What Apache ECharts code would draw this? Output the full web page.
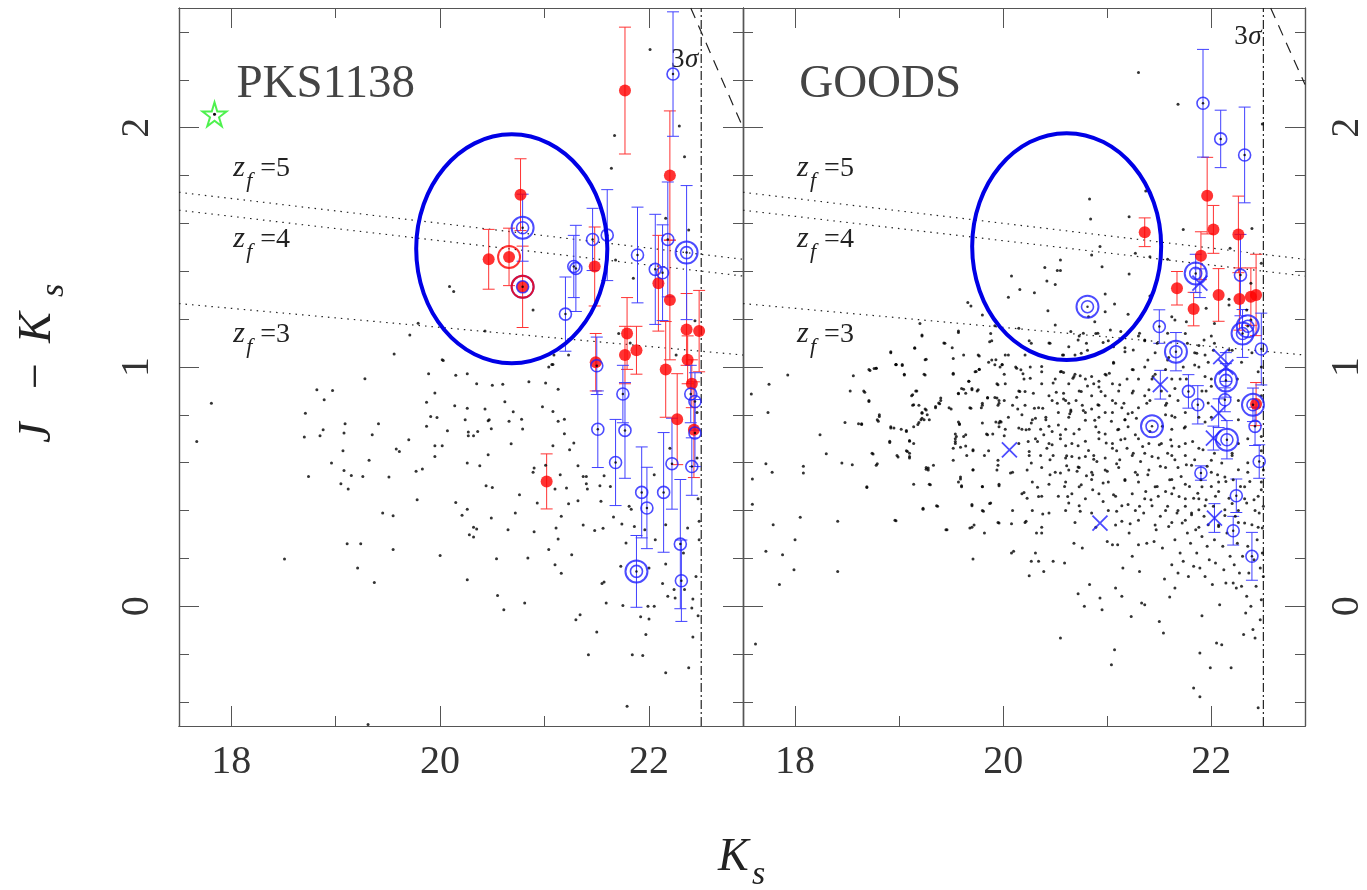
<!DOCTYPE html>
<html>
<head>
<meta charset="utf-8">
<script src="https://cdn.jsdelivr.net/npm/echarts@6/dist/echarts.min.js"></script>
<style>
  html, body { margin: 0; background: #fff; }
  #main { width: 1367px; height: 890px; }
</style>
</head>
<body>
<div id="main"></div>
<script>
// ---- axes ----
var xMin = 17.5, xMax = 22.9, yMin = -0.5, yMax = 2.5;
var xMajor = [18, 20, 22];
var xMinor = [19, 21];
var yMajor = [0, 1, 2];
var yMinor = [-0.4, -0.2, 0.2, 0.4, 0.6, 0.8, 1.2, 1.4, 1.6, 1.8, 2.2, 2.4];

// ---- model tracks / limits (same in both panels) ----
var zf5Line = [[17.5, 1.73], [22.9, 1.45]];
var zf4Line = [[17.5, 1.655], [22.9, 1.38]];
var zf3Line = [[17.5, 1.265], [22.9, 1.05]];
var sigmaLimit = [[22.5, -0.5], [22.5, 2.5]];
var pksJLimit = [[22.4, 2.5], [22.9, 2.0]];
var goodsJLimit = [[22.57, 2.5], [22.9, 2.18]];

// ellipse: K centre, colour centre, K radius, colour radius
var pksEllipse = [[20.686, 1.494, 0.915, 0.478]];
var goodsEllipse = [[20.61, 1.503, 0.908, 0.474]];

var pksStar = [[17.84, 2.056]];

// ---- PKS1138 field: [Ks, J-Ks] ----
var pksField = [
  [17.84, 2.056], [22.01, 2.327], [22.29, 2.007], [21.67, 1.967], [22.34, 1.879], [21.64, 1.83],
  [22.38, 1.572], [22.16, 1.621], [20.09, 1.336], [20.13, 1.315], [20.89, 1.238], [21.85, 1.371],
  [21.68, 1.447], [22.44, 1.193], [19.79, 1.183], [19.71, 1.134], [20.43, 1.15], [19.56, 1.054],
  [20.02, 1.03], [21.09, 1.05], [21.23, 1.05], [22.26, 1.05], [21.08, 1.01], [21.71, 1.14], [21.82, 1.1],
  [17.81, 0.849], [17.67, 0.689], [18.82, 0.905], [18.97, 0.902], [18.89, 0.863], [19.28, 0.951],
  [18.71, 0.807], [18.70, 0.707], [18.85, 0.713], [18.88, 0.738], [19.09, 0.763], [19.08, 0.724],
  [19.41, 0.763], [19.35, 0.717], [19.70, 0.696], [19.07, 0.65], [19.58, 0.657], [19.61, 0.647],
  [19.32, 0.61], [18.96, 0.599], [18.74, 0.543], [19.08, 0.568], [19.15, 0.547], [19.26, 0.543],
  [19.51, 0.54], [19.05, 0.512], [19.12, 0.49], [19.89, 0.972], [20.15, 0.966], [20.26, 0.972],
  [20.03, 1.027], [19.95, 0.891], [19.87, 0.853], [20.35, 0.93], [20.5, 0.924], [20.6, 0.928],
  [20.85, 0.938], [21.01, 0.933], [21.13, 0.907], [21.04, 1.0], [21.07, 1.01], [20.14, 0.838],
  [20.26, 0.828], [20.43, 0.824], [20.62, 0.855], [19.91, 0.793], [19.97, 0.789], [19.87, 0.752],
  [20.07, 0.734], [20.24, 0.78], [20.46, 0.775], [20.47, 0.78], [20.66, 0.773], [20.78, 0.782],
  [20.7, 0.813], [20.98, 0.834], [21.08, 0.814], [21.13, 0.773], [21.19, 0.782], [20.49, 0.742],
  [20.79, 0.741], [20.27, 0.728], [20.36, 0.731], [20.32, 0.713], [20.27, 0.713], [21.19, 0.721],
  [19.95, 0.671], [20.02, 0.671], [20.68, 0.679], [21.28, 0.682], [21.08, 0.671], [21.24, 0.654],
  [19.95, 0.626], [20.46, 0.633], [20.26, 0.599], [20.38, 0.587], [19.77, 0.564], [19.83, 0.574],
  [20.9, 0.578], [20.89, 0.56], [21.01, 0.59], [21.15, 0.55], [21.32, 0.587], [21.37, 0.543],
  [21.4, 0.543], [20.44, 0.504], [20.5, 0.497], [20.76, 0.466], [21.1, 0.49], [21.21, 0.494],
  [21.4, 0.512], [21.41, 0.49], [21.53, 0.504], [21.63, 0.501], [21.57, 0.546], [19.78, 0.445],
  [20.15, 0.434], [20.26, 0.406], [20.21, 0.381], [20.49, 0.369], [20.72, 0.39], [20.93, 0.432],
  [21.23, 0.429], [21.32, 0.441], [21.54, 0.439], [21.81, 0.418], [21.83, 0.406], [19.45, 0.39],
  [19.55, 0.379], [20.32, 0.33], [20.35, 0.323], [20.28, 0.299], [20.32, 0.29], [20.65, 0.32],
  [20.9, 0.312], [21.16, 0.376], [21.11, 0.327], [21.13, 0.281], [21.37, 0.34], [21.48, 0.317],
  [21.56, 0.326], [21.66, 0.373], [21.74, 0.344], [21.78, 0.265], [21.86, 0.334], [21.96, 0.32],
  [22.06, 0.278], [22.16, 0.341], [22.37, 0.327], [22.48, 0.355], [22.48, 0.278], [19.11, 0.262],
  [19.24, 0.262], [19.55, 0.237], [20.0, 0.212], [20.54, 0.199], [20.84, 0.202], [21.04, 0.237],
  [21.26, 0.216], [21.1, 0.174], [21.16, 0.138], [21.73, 0.167], [22.0, 0.16], [22.16, 0.177],
  [22.33, 0.223], [22.13, 0.095], [22.18, 0.042], [22.24, 0.07], [22.25, 0.035], [22.34, 0.07],
  [22.45, 0.125], [22.47, -0.039], [22.42, 0.031], [22.41, -0.007], [21.55, 0.095], [21.57, 0.102],
  [21.59, 0.014], [21.75, 0.003], [21.99, 0.0], [22.05, 0.0], [21.92, -0.044], [22.0, -0.053],
  [21.97, -0.118], [21.3, -0.056], [21.34, -0.035], [21.5, -0.107], [21.42, -0.202], [21.84, -0.202],
  [21.94, -0.205], [22.16, -0.278], [22.38, -0.257], [22.42, -0.128], [21.79, -0.417], [19.31, -0.494],
  [18.51, 0.198], [19.21, 0.16], [19.37, 0.1], [20.26, 0.111], [20.55, 0.045], [20.61, -0.014],
  [20.81, 0.014], [22.46, 0.62], [22.47, 0.45], [22.46, 0.81], [22.2, 0.66], [22.05, 0.55]
];

// ---- PKS1138 red (filled): [Ks, J-Ks, error] ----
var pksRed = [
  [21.77, 2.155, 0.265], [20.77, 1.72, 0.15], [20.465, 1.45, 0.125], [20.66, 1.46, 0.12],
  [20.79, 1.335, 0.17], [21.48, 1.42, 0.165], [22.2, 1.80, 0.27], [22.09, 1.35, 0.2],
  [22.2, 1.28, 0.25], [21.79, 1.14, 0.15], [21.88, 1.07, 0.1], [21.77, 1.05, 0.12],
  [22.36, 1.157, 0.15], [22.48, 1.15, 0.17], [22.37, 1.03, 0.1], [22.16, 0.99, 0.2],
  [21.49, 1.02, 0.12], [21.02, 0.522, 0.115], [22.27, 0.782, 0.19], [22.43, 0.738, 0.2],
  [22.41, 0.93, 0.1]
];
var pksRedRing = [[20.66, 1.46], [20.79, 1.335]];

// ---- PKS1138 blue (open): [Ks, J-Ks, error] ----
var pksBlue = [
  [22.23, 2.224, 0.26], [21.46, 1.533, 0.13], [21.6, 1.551, 0.19], [21.3, 1.412, 0.18],
  [21.28, 1.42, 0.13], [21.2, 1.221, 0.155], [21.89, 1.468, 0.2], [22.06, 1.408, 0.23],
  [22.13, 1.394, 0.2], [22.18, 1.533, 0.24], [21.5, 1.005, 0.12], [21.75, 0.887, 0.12],
  [21.51, 0.74, 0.16], [21.77, 0.735, 0.2], [21.68, 0.601, 0.18], [21.93, 0.476, 0.19],
  [21.98, 0.411, 0.17], [22.14, 0.476, 0.25], [22.22, 0.596, 0.19], [22.4, 0.887, 0.12],
  [22.44, 0.856, 0.12], [22.44, 0.724, 0.14], [22.41, 0.584, 0.12], [22.3, 0.26, 0.27],
  [22.31, 0.107, 0.17]
];
var pksBlueDouble = [
  [20.79, 1.582, 0.14], [20.79, 1.335, 0], [22.36, 1.478, 0.28], [21.88, 0.146, 0.15]
];

// ---- GOODS field: [Ks, J-Ks] ----
var goodsField = [
  [21.3, 2.23], [21.68, 2.098], [22.49, 2.015], [20.83, 1.702], [20.84, 1.618], [21.37, 1.735],
  [21.21, 1.628], [21.73, 1.575], [22.39, 1.579], [20.93, 1.503], [20.85, 1.468], [21.27, 1.475],
  [21.41, 1.461], [21.58, 1.45], [22.18, 1.496], [22.48, 1.433], [20.55, 1.447], [20.95, 1.419],
  [20.4, 1.416], [20.52, 1.403], [20.55, 1.403], [20.08, 1.38], [21.21, 1.389], [20.42, 1.359],
  [20.5, 1.345], [20.16, 1.324], [20.3, 1.31], [20.05, 1.291], [20.98, 1.305], [21.41, 1.297],
  [22.17, 1.283], [21.95, 1.245], [22.17, 1.259], [19.66, 1.269], [19.69, 1.255], [20.43, 1.235],
  [21.07, 1.263], [21.2, 1.22], [20.98, 1.231], [20.82, 1.21], [20.88, 1.189], [19.8, 1.217],
  [19.92, 1.172], [19.2, 1.182], [19.57, 1.144], [19.22, 1.134], [20.5, 1.175], [20.15, 1.162],
  [20.65, 1.148], [20.77, 1.141], [20.91, 1.141], [21.03, 1.155], [21.13, 1.148], [21.31, 1.141],
  [21.36, 1.113], [19.87, 1.106], [19.44, 1.099], [19.15, 1.078], [18.92, 1.064], [20.27, 1.099],
  [20.45, 1.099], [20.63, 1.085], [20.72, 1.113], [20.8, 1.099], [20.96, 1.102], [21.06, 1.085],
  [21.17, 1.064], [21.25, 1.071], [21.48, 1.099], [21.77, 1.099], [21.86, 1.057], [21.93, 1.113],
  [22.03, 1.099], [22.17, 1.071], [21.76, 1.189], [21.62, 1.21], [21.65, 1.196], [21.58, 1.141],
  [22.03, 1.182], [22.38, 1.196], [22.38, 1.35], [22.34, 1.238], [19.52, 1.036], [19.26, 1.032],
  [19.77, 1.046], [19.89, 1.029], [18.76, 0.994], [18.97, 1.01], [21.39, 1.029], [21.58, 1.029],
  [20.58, 1.05], [20.75, 1.057], [21.84, 1.008],
  [17.58, 0.887], [17.75, 0.928], [17.93, 0.967], [17.74, 0.81], [17.59, 0.532], [17.59, 0.427],
  [17.78, 0.56], [17.72, 0.596], [17.79, 0.341], [17.72, 0.23], [17.88, 0.216], [17.85, 0.091],
  [18.0, 0.278], [17.99, 0.153], [18.05, 0.372], [18.08, 0.585], [18.08, 0.557], [17.62, -0.157],
  [18.24, 0.717], [18.3, 0.638], [18.41, 0.355], [18.41, 0.146], [18.48, 0.768], [18.45, 0.599],
  [18.55, 0.592], [18.53, 0.9], [18.56, 0.963], [18.67, 0.895], [18.71, 0.856], [18.72, 0.985],
  [18.78, 0.995], [18.61, 0.763], [18.64, 0.763], [18.81, 0.793], [18.8, 0.773], [18.69, 0.497],
  [18.75, 0.636], [18.79, 0.596], [18.92, 0.745], [18.91, 0.685], [18.97, 0.358], [18.99, 0.624],
  [18.97, 1.009], [19.03, 1.006], [19.05, 0.967], [19.07, 0.735], [19.1, 0.693], [19.08, 0.647],
  [19.1, 0.626], [19.13, 0.884], [19.14, 0.842], [19.17, 0.9], [19.19, 0.768], [19.22, 0.786],
  [19.25, 0.824], [19.25, 0.967], [19.22, 0.807], [19.26, 0.573], [19.28, 0.578], [19.3, 0.508],
  [19.23, 0.406], [19.37, 0.418], [19.4, 0.86], [19.39, 0.846], [19.35, 0.835], [19.5, 0.824],
  [19.52, 0.974], [19.46, 0.32], [19.57, 0.888], [19.58, 0.763], [19.55, 0.71], [19.54, 0.689],
  [19.59, 0.665], [19.62, 0.907], [19.64, 0.717], [19.59, 0.532], [19.6, 0.504], [19.67, 0.94],
  [19.69, 0.828], [19.7, 0.905], [19.71, 0.654], [19.71, 0.571], [19.74, 0.981], [19.77, 0.991],
  [19.76, 0.905], [19.8, 0.849], [19.8, 0.766], [19.8, 0.501], [19.7, 0.425], [19.68, 0.327],
  [19.71, 0.198], [19.81, 0.397], [19.82, 0.306], [19.85, 0.717], [19.85, 0.873], [19.88, 0.432],
  [19.92, 1.009], [19.92, 0.873], [19.95, 0.926], [19.96, 0.849], [19.96, 0.504], [19.96, 0.348],
  [19.97, 0.773], [19.96, 0.766], [19.99, 1.009], [20.01, 0.713], [20.07, 0.557], [20.08, 0.345],
  [20.08, 0.223], [20.1, 0.23], [20.13, 0.874], [20.14, 0.824], [20.15, 0.745], [20.13, 0.995],
  [20.16, 0.898], [20.17, 0.988], [20.19, 0.972], [20.21, 0.898], [20.22, 0.738], [20.24, 0.689],
  [20.25, 0.647], [20.2, 0.476], [20.23, 0.452], [20.22, 0.355], [20.26, 0.953], [20.27, 0.766],
  [20.27, 0.599], [20.27, 0.188], [20.25, 0.128], [20.3, 0.828], [20.31, 0.786], [20.33, 0.689],
  [20.33, 0.498], [20.32, 0.306], [20.31, 0.223], [20.34, 0.459], [20.34, 0.188], [20.37, 1.002],
  [20.38, 0.828], [20.39, 0.717], [20.39, 0.146], [20.37, 0.306], [20.38, 0.386], [20.41, 0.78],
  [20.42, 0.661], [20.44, 0.752], [20.45, 0.612], [20.45, 0.55], [20.47, 0.675], [20.48, 0.188],
  [20.48, 0.933], [20.51, 0.895], [20.52, 0.849], [20.53, 0.758], [20.55, 0.717], [20.55, 0.557],
  [20.55, -0.132], [20.56, 0.981], [20.58, 0.977], [20.58, 0.866], [20.59, 0.501], [20.59, 0.181],
  [20.6, 0.671], [20.61, 0.629], [20.61, 0.587], [20.62, 0.459], [20.63, 0.432], [20.63, 0.849],
  [20.64, 0.805], [20.65, 0.814], [20.66, 0.626], [20.67, 0.953], [20.68, 0.96], [20.68, 0.264],
  [20.68, 0.721], [20.7, 0.86], [20.71, 0.564], [20.72, 0.671], [20.72, 0.582], [20.72, 0.053],
  [20.74, 0.397], [20.74, 0.963], [20.75, 0.898], [20.75, 0.508], [20.76, 0.244], [20.77, 0.818],
  [20.78, 0.0], [20.79, 0.777], [20.79, 0.626], [20.8, 0.546], [20.81, 0.921], [20.82, 0.651],
  [20.83, 0.091], [20.85, 0.824], [20.86, 0.55], [20.86, 0.487], [20.87, 0.93], [20.87, 0.615],
  [20.88, 0.777], [20.9, 0.605], [20.91, 0.842], [20.92, 0.916], [20.92, 0.727], [20.93, 0.035],
  [20.94, 0.898], [20.95, -0.014], [20.96, 0.515], [20.96, 0.438], [20.98, 0.81], [20.99, 0.682],
  [20.99, 0.967], [21.0, 0.564], [21.0, 0.271], [21.02, 0.974], [21.04, 0.773], [21.04, -0.244],
  [21.05, 0.661], [21.05, 0.257], [21.06, 1.016], [21.06, 0.466], [21.07, -0.181], [21.08, 0.849],
  [21.08, 0.077], [21.09, 0.596], [21.09, 0.397], [21.1, 0.738], [21.1, 0.257], [21.12, 0.926],
  [21.12, 0.612], [21.13, 0.696], [21.14, 0.042], [21.14, 0.355], [21.15, 0.16], [21.16, 0.849],
  [21.17, 0.78], [21.17, 0.526], [21.19, 0.661], [21.2, 0.805], [21.2, 0.425], [21.21, 0.306],
  [21.22, 0.345], [21.23, -0.042], [21.24, 0.209], [21.24, 0.891], [21.25, 0.64], [21.25, 0.988],
  [21.27, 0.717], [21.28, 0.786], [21.29, 0.55], [21.3, 0.257], [21.31, 0.418], [21.31, 0.146],
  [21.32, 0.605], [21.33, 0.014], [21.34, 0.668], [21.35, 0.39], [21.36, 0.007], [21.37, 0.48],
  [21.38, 0.849], [21.38, 0.264], [21.39, 0.55], [21.4, 0.905], [21.41, 0.731], [21.42, 0.445],
  [21.43, 0.626], [21.44, 0.96], [21.45, 0.271], [21.47, 0.32], [21.48, 0.501], [21.5, 0.675],
  [21.5, -0.063], [21.51, 0.585], [21.51, 0.376], [21.53, 0.752], [21.53, 0.244], [21.54, -0.111],
  [21.55, 0.114], [21.56, 0.48], [21.57, 0.849], [21.58, 0.64], [21.58, 0.418], [21.59, 0.334],
  [21.6, 0.039], [21.6, 0.529], [21.61, 0.696], [21.62, 0.796], [21.62, 0.174], [21.64, 0.494],
  [21.65, 0.612], [21.65, 0.278], [21.65, 0.077], [21.67, 0.39], [21.68, 0.139], [21.69, 0.459],
  [21.69, 0.668], [21.7, 0.223], [21.71, 0.543], [21.72, 0.348], [21.73, 0.188], [21.74, 0.745],
  [21.75, 0.418], [21.76, 0.592], [21.77, 0.306], [21.78, 0.125], [21.79, 0.501], [21.8, 0.264],
  [21.81, 0.383], [21.82, 0.689], [21.83, -0.341], [21.83, 0.167], [21.83, 0.452], [21.84, 0.612],
  [21.85, 0.32], [21.86, 0.223], [21.87, 0.473], [21.88, 0.404], [21.89, 0.16], [21.89, -0.195],
  [21.89, -0.378], [21.9, 0.529], [21.91, -0.039], [21.91, 0.292], [21.92, 0.654], [21.93, 0.376],
  [21.94, 0.125], [21.95, 0.445], [21.96, 0.251], [21.96, 0.585], [21.97, 0.341], [21.98, 0.195],
  [21.99, -0.257], [22.0, 0.501], [22.01, 0.091], [22.02, 0.418], [22.03, 0.64], [22.03, 0.278],
  [22.04, 0.181], [22.05, -0.153], [22.06, 0.55], [22.07, 0.334], [22.07, 0.48], [22.08, 0.007],
  [22.1, -0.16], [22.1, 0.599], [22.11, 0.251], [22.12, 0.153], [22.13, 0.404], [22.14, 0.097],
  [22.14, 0.522], [22.15, 0.306], [22.17, 0.452], [22.18, 0.209], [22.19, -0.257], [22.2, 0.64],
  [22.21, 0.097], [22.21, 0.529], [22.22, 0.174], [22.23, 0.376], [22.24, 0.077], [22.25, 0.264],
  [22.26, 0.571], [22.27, 0.139], [22.28, 0.501], [22.29, 0.084], [22.3, 0.209], [22.31, -0.118],
  [22.32, 0.348], [22.33, -0.028], [22.34, 0.042], [22.34, 0.432], [22.35, 0.251], [22.36, 0.139],
  [22.37, 0.522], [22.38, 0.0], [22.39, 0.341], [22.4, -0.097], [22.41, 0.195], [22.41, 0.445],
  [22.42, -0.132], [22.43, 0.084], [22.44, 0.278], [22.45, -0.424], [22.46, 0.39], [22.47, 0.16],
  [22.47, -0.056], [22.48, 0.028], [22.48, 0.487], [22.49, 0.327], [22.49, 0.223], [22.5, 0.125],
  [22.5, 0.418], [21.7, 0.95], [21.95, 0.9], [22.25, 0.95], [22.45, 0.98], [21.6, 0.88], [22.35, 0.7],
  // dense core, K 20-22.5
  [20.25, 1.11], [20.44, 1.10], [20.73, 1.13], [20.89, 1.14], [21.01, 1.11], [21.30, 1.13],
  [21.36, 1.11], [21.75, 1.14], [21.88, 1.09], [22.0, 1.13], [22.02, 1.07], [20.05, 1.05],
  [20.21, 1.05], [20.57, 1.05], [20.69, 1.05], [20.81, 1.07], [20.92, 1.06], [21.05, 1.09],
  [21.17, 1.08], [21.46, 1.06], [21.59, 1.04], [21.84, 1.06], [21.94, 1.05], [22.2, 1.07],
  [22.39, 1.06], [19.99, 1.01], [20.12, 1.0], [20.26, 1.0], [20.37, 0.98], [20.55, 0.98],
  [20.69, 0.97], [20.85, 0.96], [20.98, 0.97], [21.06, 1.02], [21.24, 0.99], [21.36, 1.0],
  [21.46, 0.97], [21.56, 0.99], [21.73, 1.0], [21.88, 1.0], [21.97, 1.02], [21.94, 0.96],
  [20.02, 0.93], [20.2, 0.95], [20.37, 0.93], [20.50, 0.95], [20.63, 0.93], [20.79, 0.95],
  [20.92, 0.94], [21.05, 0.93], [21.19, 0.95], [21.3, 0.95], [21.43, 0.95], [21.62, 0.95],
  [21.76, 0.95], [22.0, 0.95], [22.29, 1.02], [22.48, 1.0], [20.15, 0.90], [20.29, 0.89],
  [20.44, 0.88], [20.58, 0.89], [20.73, 0.90], [20.85, 0.88], [20.98, 0.88], [21.11, 0.90],
  [21.25, 0.90], [21.36, 0.88], [21.52, 0.90], [21.65, 0.91], [21.91, 0.90], [22.0, 0.92],
  [19.96, 0.86], [20.09, 0.84], [20.21, 0.84], [20.34, 0.83], [20.47, 0.86], [20.6, 0.86],
  [20.65, 0.82], [20.76, 0.84], [20.92, 0.84], [21.05, 0.86], [21.14, 0.83], [21.30, 0.83],
  [21.41, 0.86], [21.56, 0.84], [21.68, 0.86], [21.97, 0.85], [22.26, 0.86], [22.48, 0.88],
  [20.05, 0.79], [20.18, 0.80], [20.28, 0.78], [20.41, 0.79], [20.53, 0.81], [20.63, 0.79],
  [20.79, 0.81], [20.92, 0.79], [21.05, 0.81], [21.17, 0.78], [21.24, 0.81], [21.56, 0.80],
  [21.65, 0.79], [21.75, 0.81], [21.88, 0.79], [22.0, 0.79], [20.02, 0.74], [20.18, 0.74],
  [20.25, 0.74], [20.36, 0.74], [20.47, 0.73], [20.6, 0.74], [20.73, 0.74], [20.89, 0.75],
  [20.98, 0.72], [21.11, 0.74], [21.20, 0.75], [21.62, 0.74], [21.75, 0.75], [21.94, 0.77],
  [22.26, 0.78], [22.48, 0.71], [20.15, 0.68], [20.31, 0.70], [20.44, 0.68], [20.55, 0.70],
  [20.66, 0.68], [20.79, 0.69], [20.92, 0.70], [21.05, 0.68], [21.17, 0.70], [21.30, 0.70],
  [21.40, 0.68], [21.52, 0.68], [21.62, 0.67], [21.75, 0.68], [21.88, 0.66], [22.26, 0.68],
  [22.48, 0.65], [20.25, 0.63], [20.36, 0.63], [20.48, 0.63], [20.6, 0.62], [20.73, 0.62],
  [20.87, 0.63], [20.98, 0.62], [21.09, 0.65], [21.24, 0.63], [21.36, 0.64], [21.49, 0.62],
  [21.62, 0.63], [21.75, 0.63], [22.0, 0.61], [22.2, 0.63], [22.35, 0.60], [20.09, 0.56],
  [20.23, 0.57], [20.37, 0.58], [20.5, 0.56], [20.63, 0.57], [20.73, 0.58], [20.85, 0.56],
  [20.98, 0.57], [21.11, 0.58], [21.27, 0.56], [21.40, 0.57], [21.56, 0.58], [21.68, 0.58],
  [21.81, 0.59], [22.0, 0.56], [22.13, 0.54], [22.35, 0.56], [22.5, 0.57], [20.28, 0.52],
  [20.44, 0.51], [20.6, 0.52], [20.73, 0.50], [20.85, 0.53], [21.01, 0.52], [21.17, 0.53],
  [21.30, 0.52], [21.46, 0.50], [21.62, 0.53], [21.75, 0.51], [21.91, 0.50], [22.07, 0.52],
  [22.32, 0.50], [22.48, 0.52], [20.18, 0.47], [20.37, 0.46], [20.53, 0.46], [20.66, 0.47],
  [20.79, 0.45], [20.92, 0.47], [21.08, 0.46], [21.24, 0.47], [21.36, 0.45], [21.49, 0.46],
  [21.62, 0.47], [21.75, 0.45], [21.88, 0.45], [22.04, 0.46], [22.2, 0.43], [22.32, 0.45],
  [22.45, 0.46], [20.09, 0.40], [20.28, 0.40], [20.44, 0.39], [20.6, 0.40], [20.73, 0.42],
  [20.85, 0.39], [21.01, 0.40], [21.14, 0.42], [21.27, 0.40], [21.43, 0.42], [21.56, 0.40],
  [21.68, 0.40], [21.81, 0.39], [21.94, 0.42], [22.13, 0.38], [22.26, 0.40], [22.42, 0.40],
  [20.21, 0.35], [20.37, 0.33], [20.69, 0.35], [20.89, 0.33], [21.08, 0.34], [21.30, 0.36],
  [21.46, 0.34], [21.62, 0.35], [21.75, 0.36], [21.88, 0.33], [22.07, 0.34], [22.26, 0.35],
  [22.45, 0.33],
  // K 18.6-20
  [19.22, 1.13], [19.57, 1.15], [19.88, 1.14], [19.89, 1.11], [19.15, 1.08], [19.43, 1.10],
  [19.51, 1.08], [18.92, 1.06], [19.62, 1.05], [19.76, 1.05], [20.02, 1.05], [19.25, 1.03],
  [19.86, 1.02], [19.93, 1.03], [18.97, 1.01], [19.03, 1.01], [19.97, 1.0], [18.71, 0.99],
  [18.78, 0.995], [19.05, 0.97], [19.24, 0.97], [19.52, 0.97], [19.73, 0.98], [19.77, 0.99],
  [20.01, 0.97], [19.67, 0.94], [18.66, 0.90], [19.16, 0.90], [19.12, 0.88], [19.6, 0.91],
  [19.64, 0.89], [19.7, 0.91], [19.75, 0.90], [19.57, 0.89], [19.85, 0.87], [19.94, 0.93],
  [19.94, 0.87], [20.01, 0.86], [18.71, 0.86], [19.4, 0.87], [19.38, 0.85], [19.35, 0.83],
  [19.13, 0.84], [19.19, 0.84], [19.22, 0.81], [19.26, 0.82], [19.27, 0.80], [19.24, 0.78],
  [19.21, 0.78], [19.29, 0.78], [19.48, 0.83], [19.68, 0.83], [19.8, 0.84], [19.79, 0.83],
  [19.95, 0.84], [18.81, 0.80], [18.79, 0.78], [18.64, 0.76], [19.57, 0.77], [19.58, 0.76],
  [19.18, 0.76], [19.14, 0.75], [18.92, 0.75], [18.95, 0.745], [19.02, 0.74], [19.07, 0.73],
  [19.93, 0.77], [19.96, 0.75], [19.98, 0.77], [19.54, 0.72], [19.62, 0.71], [19.84, 0.72],
  [19.9, 0.72], [19.1, 0.69], [19.14, 0.68], [18.91, 0.69], [19.54, 0.70], [19.54, 0.68],
  [19.52, 0.66], [19.64, 0.67], [19.71, 0.65], [19.86, 0.65], [19.07, 0.65], [19.1, 0.64],
  [19.1, 0.62], [18.74, 0.64], [18.98, 0.63], [19.65, 0.63], [19.82, 0.63], [19.95, 0.61],
  [19.95, 0.59], [19.52, 0.61], [18.78, 0.59], [19.26, 0.58], [19.28, 0.57], [19.33, 0.59],
  [19.71, 0.57], [19.94, 0.57], [19.59, 0.54], [19.57, 0.52], [19.6, 0.50], [19.14, 0.51],
  [19.29, 0.51], [19.8, 0.50], [19.96, 0.51], [18.69, 0.50], [19.7, 0.42], [19.87, 0.43],
  [19.36, 0.42], [19.23, 0.41], [19.8, 0.40], [18.96, 0.36], [19.72, 0.34], [19.7, 0.33],
  [19.95, 0.35], [19.45, 0.32]
];

// ---- GOODS red (filled): [Ks, J-Ks, error] ----
var goodsRed = [
  [21.36, 1.563, 0.06], [21.96, 1.716, 0.16], [22.02, 1.575, 0.1], [21.9, 1.465, 0.1],
  [22.26, 1.554, 0.16], [21.67, 1.329, 0.07], [21.83, 1.242, 0.07], [22.07, 1.301, 0.11],
  [22.27, 1.284, 0.13], [22.38, 1.294, 0.12], [22.43, 1.301, 0.17], [22.43, 0.845, 0.09]
];

// ---- GOODS blue (open): [Ks, J-Ks, error] ----
var goodsBlue = [
  [21.92, 2.102, 0.225], [22.09, 1.953, 0.12], [22.32, 1.886, 0.2], [22.28, 1.384, 0.17],
  [21.5, 1.169, 0.07], [22.48, 1.075, 0.15], [21.78, 0.898, 0.07], [21.87, 0.842, 0.08],
  [22.13, 0.863, 0.05], [22.42, 0.752, 0.08], [22.46, 0.605, 0.07], [21.9, 0.557, 0.03],
  [22.24, 0.462, 0.07], [22.21, 0.316, 0.06], [22.39, 0.209, 0.1]
];
var goodsBlueDouble = [
  [20.81, 1.252, 0], [21.85, 1.391, 0.08], [21.66, 1.064, 0.08], [22.3, 1.14, 0.1],
  [22.35, 1.17, 0], [22.14, 0.944, 0.07], [22.4, 0.842, 0.07], [21.43, 0.752, 0],
  [22.15, 0.696, 0.08]
];
var goodsCross = [
  [21.89, 1.35, 0.06], [22.14, 1.0, 0.06], [21.51, 0.926, 0.06], [22.07, 0.807, 0.06],
  [22.02, 0.703, 0.05], [22.03, 0.369, 0.06], [20.06, 0.654, 0], [20.93, 0.348, 0],
  [22.09, 1.043, 0]
];

// ---- styles ----
var SERIF = '"Liberation Serif", "DejaVu Serif", serif';
var RED = '#ff0000', BLUE = '#1f1fff', FRAME = '#555';
var CROSS = 'path://M0,0L10,10M10,0L0,10';
var STAR = 'path://M50,0L61,35L98,35L68,57L79,91L50,70L21,91L32,57L2,35L39,35Z';

function xAx(gi, pos, ticks, len, labels) {
  return {
    type: 'value', gridIndex: gi, position: pos, min: xMin, max: xMax,
    axisLine: { show: true, onZero: false, lineStyle: { color: FRAME, width: 1.2 } },
    axisTick: { show: true, inside: true, length: len, customValues: ticks, lineStyle: { color: FRAME, width: 1 } },
    axisLabel: labels ? { show: true, customValues: ticks, margin: 16, fontSize: 40, fontFamily: SERIF, color: '#333' } : { show: false },
    splitLine: { show: false }
  };
}
function yAx(gi, pos, ticks, len, labels) {
  return {
    type: 'value', gridIndex: gi, position: pos, min: yMin, max: yMax,
    axisLine: { show: true, onZero: false, lineStyle: { color: FRAME, width: 1.2 } },
    axisTick: { show: true, inside: true, length: len, customValues: ticks, lineStyle: { color: FRAME, width: 1 } },
    axisLabel: labels ? { show: true, customValues: ticks, rotate: 90, margin: 22, fontSize: 40, fontFamily: SERIF, color: '#333' } : { show: false },
    splitLine: { show: false }
  };
}

function line(data, gi, type, z) {
  return {
    type: 'line', xAxisIndex: gi * 4, yAxisIndex: gi * 4, data: data, symbol: 'none', silent: true, z: z || 1,
    lineStyle: { color: '#222', width: 1.2, type: type }, animation: false
  };
}
function dots(data, gi, size, style, symbol, z) {
  return {
    type: 'scatter', xAxisIndex: gi * 4, yAxisIndex: gi * 4, symbol: symbol || 'circle', symbolSize: size,
    data: data.map(function (d) { return [d[0], d[1]]; }), itemStyle: style, silent: true, z: z, animation: false
  };
}
function errBars(data, gi, color) {
  return {
    type: 'custom', xAxisIndex: gi * 4, yAxisIndex: gi * 4, silent: true, z: 2, clip: true, animation: false,
    data: data.filter(function (d) { return d[2] > 0; }).map(function (d) { return [d[0], d[1] - d[2], d[1] + d[2]]; }),
    encode: { x: 0, y: [1, 2] },
    renderItem: function (p, api) {
      var lo = api.coord([api.value(0), api.value(1)]);
      var hi = api.coord([api.value(0), api.value(2)]);
      var w = 6, st = { stroke: color, lineWidth: 1, fill: null };
      return { type: 'group', children: [
        { type: 'line', shape: { x1: lo[0], y1: lo[1], x2: hi[0], y2: hi[1] }, style: st },
        { type: 'line', shape: { x1: lo[0] - w, y1: lo[1], x2: lo[0] + w, y2: lo[1] }, style: st },
        { type: 'line', shape: { x1: hi[0] - w, y1: hi[1], x2: hi[0] + w, y2: hi[1] }, style: st }
      ] };
    }
  };
}
function ellipse(data, gi) {
  return {
    type: 'custom', xAxisIndex: gi * 4, yAxisIndex: gi * 4, silent: true, z: 8, animation: false, data: data,
    encode: { x: 0, y: 1 },
    renderItem: function (p, api) {
      var c = api.coord([api.value(0), api.value(1)]);
      var s = api.size([api.value(2), api.value(3)]);
      return { type: 'ellipse', shape: { cx: c[0], cy: c[1], rx: s[0], ry: s[1] },
        style: { fill: null, stroke: '#0000e6', lineWidth: 4 } };
    }
  };
}
function ring(color, width) { return { color: 'none', borderColor: color, borderWidth: width }; }

function panelSeries(gi, field, red, blue, dbl, extra) {
  var s = [
    line(zf5Line, gi, [1.5, 5]), line(zf4Line, gi, [1.5, 5]), line(zf3Line, gi, [1.5, 5]),
    line(sigmaLimit, gi, [9, 3, 2, 3]), line(gi === 0 ? pksJLimit : goodsJLimit, gi, [11, 8]),
    errBars(red, gi, '#ff3333'), errBars(blue.concat(dbl), gi, '#4040ff'),
    dots(field, gi, 3, { color: '#000' }, 'circle', 3),
    dots(red, gi, 12, { color: RED }, 'circle', 4),
    dots(blue, gi, 12, ring(BLUE, 1.6), 'circle', 5),
    dots(dbl, gi, 12, ring(BLUE, 1.6), 'circle', 5),
    dots(dbl, gi, 22, ring(BLUE, 2), 'circle', 5),
    dots(blue.concat(dbl), gi, 2.5, { color: '#000' }, 'circle', 6),
    ellipse(gi === 0 ? pksEllipse : goodsEllipse, gi)
  ];
  return s.concat(extra);
}

var series = panelSeries(0, pksField, pksRed, pksBlue, pksBlueDouble, [
  dots(pksRedRing, 0, 22, ring(RED, 2), 'circle', 6),
  dots(pksStar, 0, 24, ring('#22ee22', 2), STAR, 6),
  dots(pksStar, 0, 2.5, { color: '#000' }, 'circle', 7)
]);
var firstRight = series.length;
series = series.concat(panelSeries(1, goodsField, goodsRed, goodsBlue, goodsBlueDouble, [
  errBars(goodsCross, 1, '#4040ff'),
  dots(goodsCross, 1, 15, ring(BLUE, 1.8), CROSS, 5)
]));

var chart = echarts.init(document.getElementById('main'), null, { renderer: 'canvas' });
chart.setOption({
  backgroundColor: '#fff',
  animation: false,
  grid: [
    { left: 179, top: 8, width: 564, height: 718 },
    { left: 743, top: 8, width: 565, height: 718 }
  ],
  xAxis: [
    xAx(0, 'bottom', xMajor, 20, true), xAx(0, 'bottom', xMinor, 10, false),
    xAx(0, 'top', xMajor, 20, false), xAx(0, 'top', xMinor, 10, false),
    xAx(1, 'bottom', xMajor, 20, true), xAx(1, 'bottom', xMinor, 10, false),
    xAx(1, 'top', xMajor, 20, false), xAx(1, 'top', xMinor, 10, false)
  ],
  yAxis: [
    yAx(0, 'left', yMajor, 20, true), yAx(0, 'left', yMinor, 10, false),
    yAx(0, 'right', yMajor, 20, false), yAx(0, 'right', yMinor, 10, false),
    yAx(1, 'right', yMajor, 20, true), yAx(1, 'right', yMinor, 10, false),
    yAx(1, 'left', yMajor, 20, false), yAx(1, 'left', yMinor, 10, false)
  ],
  series: series
});

// ---- text annotations, anchored in data coordinates ----
function part(x, y, text, size, italic, color) {
  var font = (italic ? 'italic ' : '') + size + 'px ' + SERIF;
  return { type: 'text', x: x, y: y - 0.3 * size, silent: true,
    style: { text: text, font: font, fill: color || '#222', align: 'left', verticalAlign: 'middle',
      textAlign: 'left', textVerticalAlign: 'middle' } };
}
function at(gi, p) { return chart.convertToPixel({ seriesIndex: gi === 0 ? 0 : firstRight }, p); }

var graphics = [];
[0, 1].forEach(function (gi) {
  var t = at(gi, gi === 0 ? [18.05, 2.12] : [18.04, 2.12]);
  graphics.push(part(t[0], t[1], gi === 0 ? 'PKS1138' : 'GOODS', 47, false, '#444'));
  [[18.02, 1.794, '5'], [18.02, 1.498, '4'], [18.02, 1.101, '3']].forEach(function (z) {
    var a = at(gi, [z[0], z[1]]);
    graphics.push(part(a[0], a[1], 'z', 30, true));
    graphics.push(part(a[0] + 13, a[1] + 11, 'f', 22, true));
    graphics.push(part(a[0] + 27, a[1], '=' + z[2], 28, false));
  });
  var s = at(gi, gi === 0 ? [22.21, 2.25] : [22.22, 2.346]);
  graphics.push(part(s[0], s[1], '3', 27, false));
  graphics.push(part(s[0] + 14, s[1], 'σ', 27, true));
});
// axis titles
graphics.push({ type: 'group', x: 52, y: 443, rotation: Math.PI / 2, children: [
  part(0, 0, 'J', 46, true), part(54, 0, '−', 46, false), part(100, 0, 'K', 46, true), part(146, 12, 's', 34, true)
] });
graphics.push(part(718, 872, 'K', 46, true));
graphics.push(part(752, 885, 's', 34, true));

chart.setOption({ graphic: { elements: graphics } });
</script>
</body>
</html>
